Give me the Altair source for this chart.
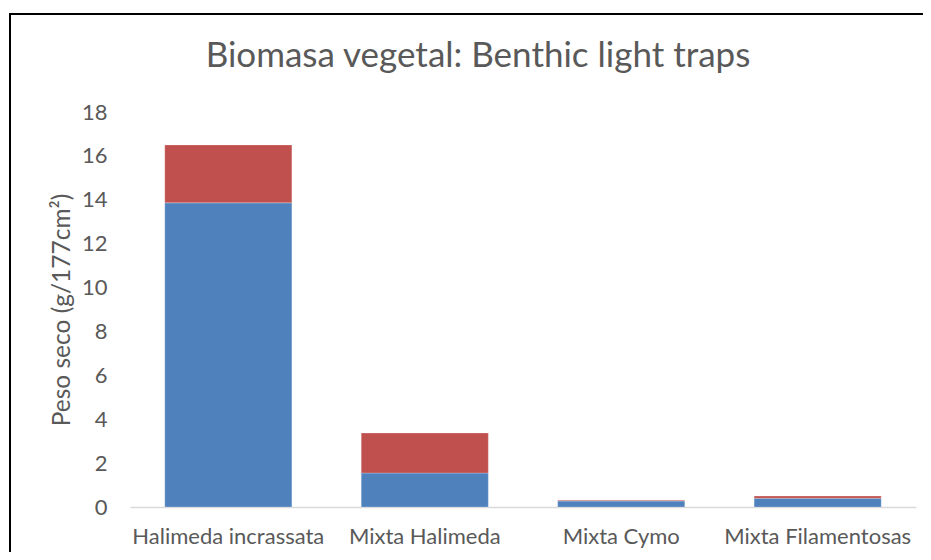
import altair as alt
import pandas as pd

categories = ["Halimeda incrassata", "Mixta Halimeda", "Mixta Cymo", "Mixta Filamentosas"]
serie1 = [13.86, 1.55, 0.27, 0.40]
serie2 = [2.64, 1.82, 0.04, 0.10]
series_names = ["Serie1", "Serie2"]
y_ticks = [0, 2, 4, 6, 8, 10, 12, 14, 16, 18]

rows = []
for c, a, b in zip(categories, serie1, serie2):
    rows.append({"cat": c, "serie": series_names[0], "val": a, "ord": 0})
    rows.append({"cat": c, "serie": series_names[1], "val": b, "ord": 1})
df = pd.DataFrame(rows)

FONT = "Lato"
TXT = "#595959"

bars = alt.Chart(df).mark_bar(stroke="white", strokeWidth=0.4, strokeOpacity=0.6).encode(
    x=alt.X("cat:N", sort=categories,
            scale=alt.Scale(paddingInner=0.353, paddingOuter=0.177),
            axis=alt.Axis(title=None, labelAngle=0, ticks=False, domain=True,
                          domainColor="#D9D9D9", domainWidth=1.5,
                          labelFont=FONT, labelFontSize=22, labelColor=TXT,
                          labelPadding=19, labelBaseline="top", labelLimit=0)),
    y=alt.Y("val:Q", stack="zero",
            scale=alt.Scale(domain=[0, 18], nice=False),
            axis=alt.Axis(values=y_ticks, title="Peso seco (g/177cm²)", grid=False,
                          ticks=False, domain=False,
                          labelFont=FONT, labelFontSize=22, labelColor=TXT,
                          labelPadding=23,
                          titleFont=FONT, titleFontSize=24.5, titleColor=TXT,
                          titleFontWeight="normal",
                          titleX=-68, titleY=197.5, titleAngle=-90,
                          titleAlign="center", titleBaseline="middle")),
    color=alt.Color("serie:N", scale=alt.Scale(domain=series_names,
                                               range=["#4F81BD", "#C0504D"]),
                    legend=None),
    order=alt.Order("ord:Q", sort="ascending"),
)

one = pd.DataFrame({"f": [0]})
frame_top = alt.Chart(one).mark_rule(color="black", strokeWidth=2, clip=False).encode(
    x=alt.value(-121), x2=alt.value(793), y=alt.value(-98)
)
frame_left = alt.Chart(one).mark_rule(color="black", strokeWidth=2, clip=False).encode(
    x=alt.value(-120), y=alt.value(-99), y2=alt.value(440)
)

chart = alt.layer(bars, frame_top, frame_left).properties(
    width=786, height=395,
    background="white",
    title=alt.TitleParams("Biomasa vegetal: Benthic light traps", font=FONT,
                          fontSize=35, fontWeight="normal", color=TXT,
                          anchor="middle", frame="group", dx=-45, offset=-90,
                          baseline="alphabetic"),
    padding={"left": 122, "top": 104, "right": 7, "bottom": 45},
    autosize=alt.AutoSizeParams(type="none"),
).configure_view(strokeWidth=0)

chart.save("out.html", embed_options={"renderer": "svg", "actions": False})
